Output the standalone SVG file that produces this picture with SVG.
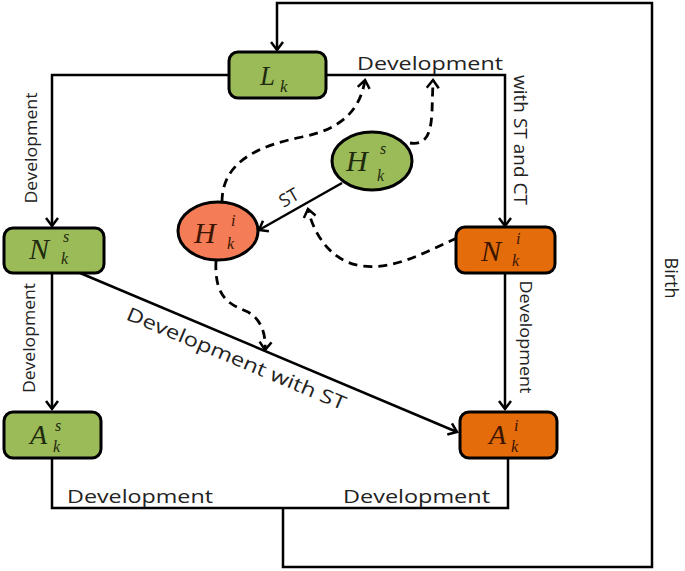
<svg xmlns="http://www.w3.org/2000/svg" width="685" height="571" viewBox="0 0 685 571">
<style>
.box{stroke:#000;stroke-width:3}
.g{fill:#9BBB59}
.o{fill:#E46C0A}
.r{fill:#F47D57}
.ln{fill:none;stroke:#000;stroke-width:2.5}
.ds{fill:none;stroke:#000;stroke-width:2.8;stroke-dasharray:9 6}
.m{font-family:"Liberation Serif","Times New Roman",serif;font-style:italic}
.mg{fill:#1f2a0e}
.mo{fill:#3b1500}
.lb{font-family:"Open Sans","Liberation Sans",sans-serif;fill:#222}
</style>
<defs>
<marker id="ah" markerUnits="userSpaceOnUse" markerWidth="16" markerHeight="16" refX="11" refY="8" orient="auto">
<path d="M3,2 L11,8 L3,14" fill="none" stroke="#000" stroke-width="2.5"/>
</marker>
</defs>
<rect width="685" height="571" fill="#fff"/>
<g id="connectors">
<path class="ln" d="M283,508 V567 H652 V3 H277 V50" marker-end="url(#ah)"/>
<path class="ln" d="M52,458 V508 H508 V458"/>
<path class="ln" d="M229,75 H52 V226" marker-end="url(#ah)"/>
<path class="ln" d="M326,75 H505 V226" marker-end="url(#ah)"/>
<path class="ln" d="M52,273 V409" marker-end="url(#ah)"/>
<path class="ln" d="M505,273 V409" marker-end="url(#ah)"/>
<path class="ln" d="M80,273 L457,432" marker-end="url(#ah)"/>
<path class="ln" d="M342,183 L259,230" marker-end="url(#ah)"/>
<path class="ds" d="M222,202 C222,160 262,145 302,137 C342,129 360,110 365,80" marker-end="url(#ah)"/>
<path class="ds" d="M410,143 C428,146 431,130 432,112 L433,80" marker-end="url(#ah)"/>
<path class="ds" d="M457,238 C425,252 395,270 362,266 C330,262 313,232 308,209" marker-end="url(#ah)"/>
<path class="ds" d="M216,261 C214,300 232,305 248,312 C262,320 266,335 265,350" marker-end="url(#ah)"/>
<text class="lb" x="357" y="70" font-size="19" textLength="146" lengthAdjust="spacingAndGlyphs">Development</text>
<text class="lb" x="67" y="503" font-size="19" textLength="146" lengthAdjust="spacingAndGlyphs">Development</text>
<text class="lb" x="343" y="503" font-size="19" textLength="147" lengthAdjust="spacingAndGlyphs">Development</text>
<text class="lb" font-size="17" text-anchor="middle" textLength="111" lengthAdjust="spacingAndGlyphs" transform="translate(37,148) rotate(-90)">Development</text>
<text class="lb" font-size="17" text-anchor="middle" textLength="110" lengthAdjust="spacingAndGlyphs" transform="translate(35,338) rotate(-90)">Development</text>
<text class="lb" font-size="17" text-anchor="middle" textLength="113" lengthAdjust="spacingAndGlyphs" transform="translate(520,337) rotate(90)">Development</text>
<text class="lb" font-size="18" text-anchor="middle" textLength="130" lengthAdjust="spacingAndGlyphs" transform="translate(514,140) rotate(90)">with ST and CT</text>
<text class="lb" font-size="18" text-anchor="middle" transform="translate(665,278) rotate(90)">Birth</text>
<text class="lb" font-size="18" text-anchor="middle" transform="translate(292,203) rotate(-30)">ST</text>
<text class="lb" font-size="19" textLength="236" lengthAdjust="spacingAndGlyphs" transform="translate(125,319) rotate(22.8)">Development  with ST</text>
</g>
<g id="L">
<rect class="box g" x="229" y="52" width="97" height="46" rx="9"/>
<text class="m mg" x="260" y="85" font-size="27">L</text>
<text class="m mg" x="280" y="92" font-size="17">k</text>
</g>
<g id="Ns">
<rect class="box g" x="4" y="228" width="100" height="45" rx="9"/>
<text class="m mg" x="29" y="259" font-size="30">N</text>
<text class="m mg" x="63" y="242" font-size="16">s</text>
<text class="m mg" x="61" y="264" font-size="16">k</text>
</g>
<g id="As">
<rect class="box g" x="4" y="412" width="97" height="46" rx="9"/>
<text class="m mg" x="30" y="444" font-size="28">A</text>
<text class="m mg" x="55" y="431" font-size="16">s</text>
<text class="m mg" x="53" y="452" font-size="16">k</text>
</g>
<g id="Hs">
<ellipse class="box g" cx="372" cy="161" rx="40" ry="29"/>
<text class="m mg" x="346" y="171" font-size="30">H</text>
<text class="m mg" x="380" y="154" font-size="16">s</text>
<text class="m mg" x="377" y="181" font-size="16">k</text>
</g>
<g id="Hi">
<ellipse class="box r" cx="218" cy="231" rx="40" ry="29"/>
<text class="m mo" x="194" y="243" font-size="30">H</text>
<text class="m mo" x="231" y="226" font-size="16">i</text>
<text class="m mo" x="227" y="249" font-size="16">k</text>
</g>
<g id="Ni">
<rect class="box o" x="456" y="227" width="99" height="46" rx="9"/>
<text class="m mo" x="481" y="261" font-size="30">N</text>
<text class="m mo" x="516" y="244" font-size="16">i</text>
<text class="m mo" x="512" y="266" font-size="16">k</text>
</g>
<g id="Ai">
<rect class="box o" x="460" y="412" width="97" height="46" rx="9"/>
<text class="m mo" x="489" y="444" font-size="28">A</text>
<text class="m mo" x="514" y="431" font-size="16">i</text>
<text class="m mo" x="511" y="452" font-size="16">k</text>
</g>
</svg>
